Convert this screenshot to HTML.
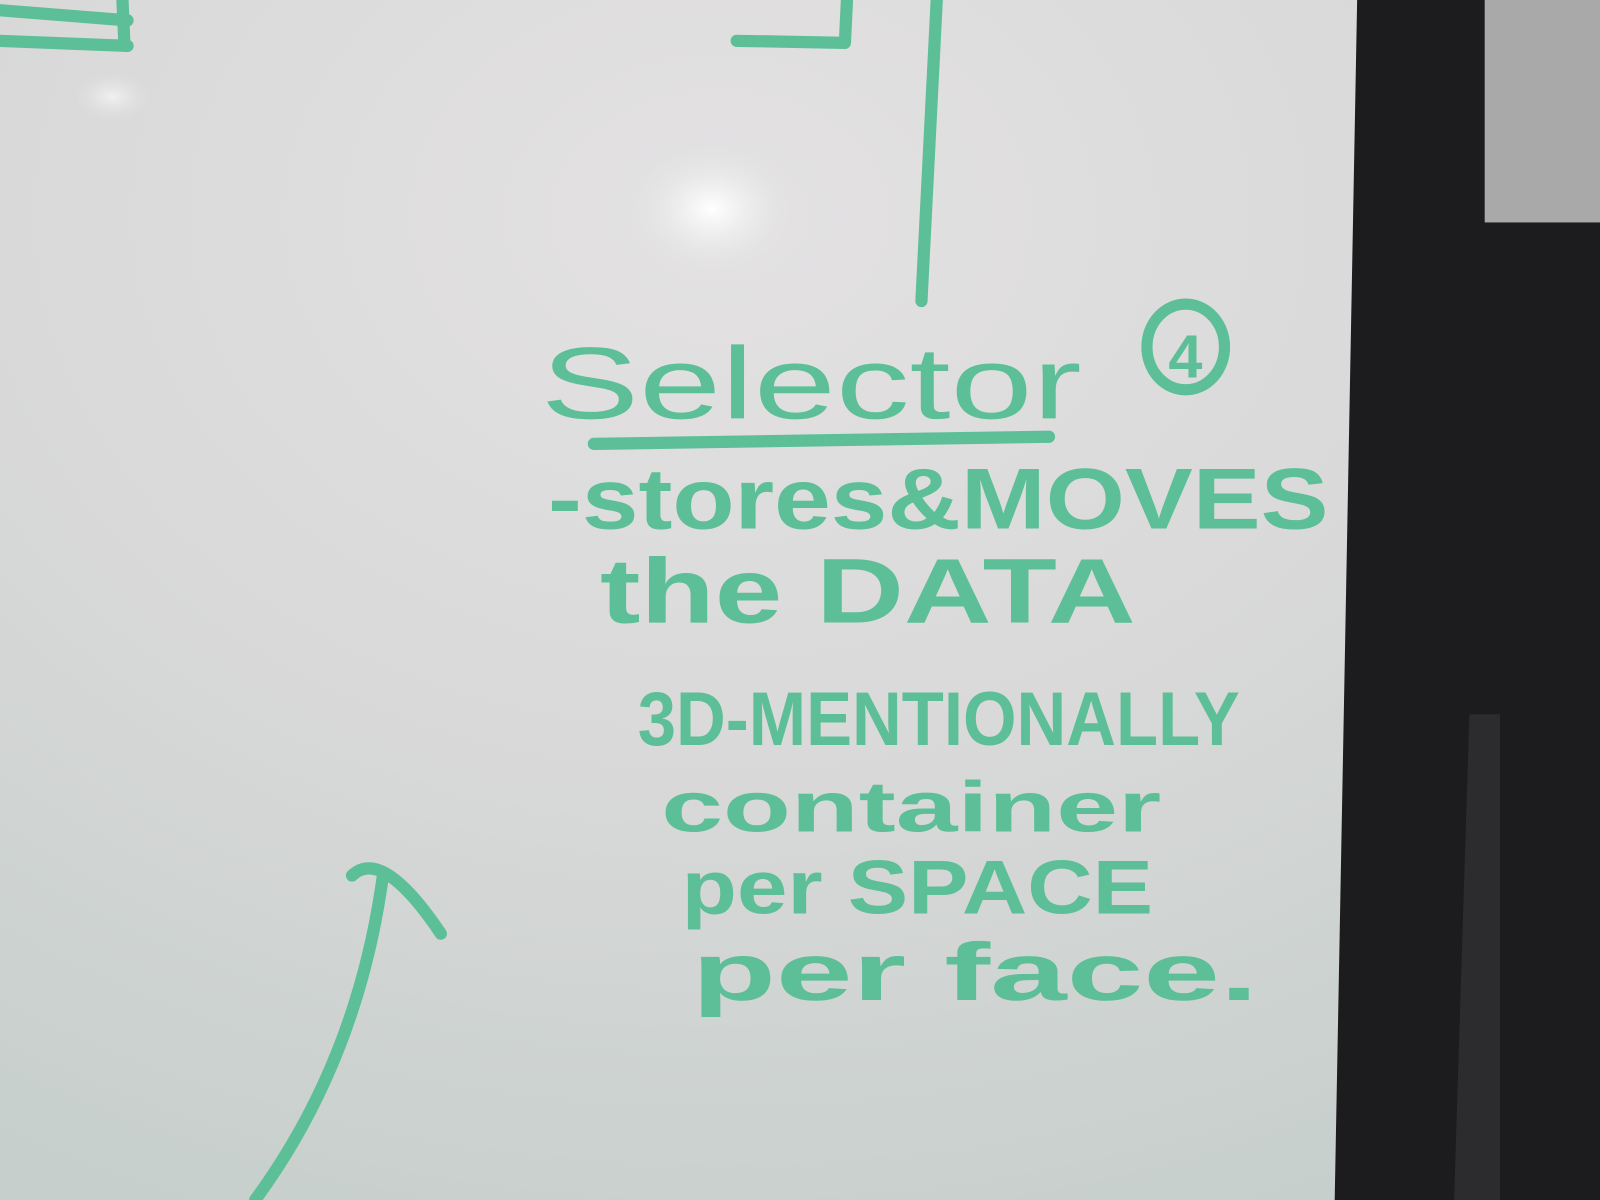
<!DOCTYPE html>
<html><head><meta charset="utf-8"><style>
html,body{margin:0;padding:0;width:1600px;height:1200px;overflow:hidden;background:#d8d8d8}
svg{display:block}
</style></head><body>
<svg width="1600" height="1200" viewBox="0 0 1568 1176" preserveAspectRatio="none">
<defs>
<radialGradient id="bg" cx="0.45" cy="0.18" r="0.9">
<stop offset="0" stop-color="#e4e2e3"/>
<stop offset="0.5" stop-color="#d9d9d9"/>
<stop offset="1" stop-color="#c6cfcc"/>
</radialGradient>
<radialGradient id="glare" cx="0.5" cy="0.5" r="0.5">
<stop offset="0" stop-color="#ffffff"/>
<stop offset="0.3" stop-color="#f4f4f4" stop-opacity="0.8"/>
<stop offset="1" stop-color="#e0e0e0" stop-opacity="0"/>
</radialGradient>
</defs>
<rect width="1568" height="1176" fill="url(#bg)"/>
<ellipse cx="698" cy="205" rx="90" ry="70" fill="url(#glare)"/>
<ellipse cx="110" cy="95" rx="40" ry="25" fill="url(#glare)" opacity="0.6"/>
<!-- right frame -->
<polygon points="1330,0 1568,0 1568,1176 1308,1176" fill="#1c1c1e"/>
<rect x="1455" y="0" width="113" height="218" fill="#a9a9a9"/>
<polygon points="1440,700 1470,700 1470,1176 1425,1176" fill="#2c2c2e"/>
<g fill="none" stroke="#5cbf97" stroke-width="12" stroke-linecap="round" stroke-linejoin="round">
<path d="M0,10 L125,20 M0,40 L125,45 M120,0 L122,45"/>
<path d="M722,40 L828,42 L830,0"/>
<path d="M918,0 L903,295"/>
<path d="M582,435 L1028,428"/>
<path d="M250,1176 Q350,1040 375,860 M345,858 Q375,830 432,915"/>
<ellipse cx="1162" cy="340" rx="38" ry="42" stroke-width="11"/>
</g>
<g fill="#5cbf97" font-family="'Liberation Sans',sans-serif" font-weight="bold">
<text x="530" y="410" font-size="100" textLength="530" lengthAdjust="spacingAndGlyphs" font-weight="normal" style="font-family:'Liberation Sans',sans-serif">Selector</text>
<text x="1145" y="370" font-size="60">4</text>
<text x="537" y="518" font-size="85" textLength="765" lengthAdjust="spacingAndGlyphs">-stores&amp;MOVES</text>
<text x="588" y="610" font-size="90" textLength="525" lengthAdjust="spacingAndGlyphs">the DATA</text>
<text x="625" y="730" font-size="75" textLength="590" lengthAdjust="spacingAndGlyphs">3D-MENTIONALLY</text>
<text x="648" y="815" font-size="70" textLength="490" lengthAdjust="spacingAndGlyphs">container</text>
<text x="668" y="895" font-size="75" textLength="462" lengthAdjust="spacingAndGlyphs">per SPACE</text>
<text x="678" y="980" font-size="80" textLength="555" lengthAdjust="spacingAndGlyphs">per face.</text>
</g>
</svg>
</body></html>
